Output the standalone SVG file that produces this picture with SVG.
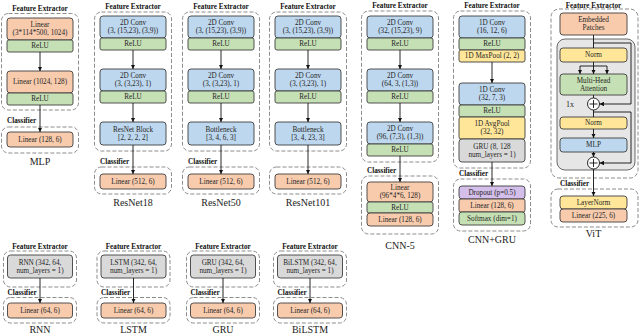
<svg xmlns="http://www.w3.org/2000/svg" width="640" height="334" viewBox="0 0 640 334">
<defs>
<style>
text{font-family:"Liberation Serif","Times New Roman",serif;fill:#262626;text-anchor:middle}
.fe{font-weight:bold;font-size:7.2px;fill:#111}
.cl{font-weight:bold;font-size:7.2px;fill:#111;text-anchor:start}
.t{font-size:7.2px}
.lb{font-size:10px;fill:#222}
.d{fill:none;stroke:#808080;stroke-width:0.9;stroke-dasharray:4 2}
.b{stroke:#404040;stroke-width:0.9}
.o{fill:#F8CBAD}.g{fill:#C5E0B4}.bl{fill:#BDD7EE}.y{fill:#FFE699}.gr{fill:#D9D9D9}.p{fill:#D4BEEA}
.ln{fill:none;stroke:#111;stroke-width:0.9}
</style>
<marker id="ah" viewBox="0 0 5 5" refX="5" refY="2.5" markerWidth="4.5" markerHeight="4.5" markerUnits="userSpaceOnUse" orient="auto"><path d="M0,0 L5,2.5 L0,5 z" fill="#111"/></marker>
</defs>

<g id="mlp">
<text class="fe" x="40" y="10.5">Feature Extractor</text>
<rect class="d" x="1.5" y="13.5" width="77" height="96.5" rx="7"/>
<rect class="b o" x="7" y="18" width="66" height="22" rx="3"/>
<text class="t" x="40" y="27.4">Linear</text>
<text class="t" x="40" y="35.4">(3*114*500, 1024)</text>
<rect class="b g" x="7" y="40" width="66" height="12" rx="2"/>
<text class="t" x="40" y="48.4">ReLU</text>
<rect class="b o" x="7" y="71" width="66" height="22" rx="3"/>
<text class="t" x="40" y="84.4">Linear (1024, 128)</text>
<rect class="b g" x="7" y="93" width="66" height="12" rx="2"/>
<text class="t" x="40" y="101.4">ReLU</text>
<text class="cl" x="7" y="123">Classifier</text>
<rect class="d" x="1.5" y="127" width="77" height="26" rx="7"/>
<rect class="b o" x="7" y="132" width="66" height="15" rx="3"/>
<text class="t" x="40" y="142">Linear (128, 6)</text>
<text class="lb" x="40" y="165">MLP</text>
</g>

<g id="resnet18">
<text class="fe" x="133" y="8.5">Feature Extractor</text>
<rect class="d" x="94.5" y="12" width="77" height="139" rx="7"/>
<rect class="b bl" x="100" y="16" width="66" height="22" rx="3"/>
<text class="t" x="133" y="25.4">2D Conv</text>
<text class="t" x="133" y="33.4">(3, (15,23), (3,9))</text>
<rect class="b g" x="100" y="38" width="66" height="12" rx="2"/>
<text class="t" x="133" y="46.4">ReLU</text>
<rect class="b bl" x="100" y="69" width="66" height="22" rx="3"/>
<text class="t" x="133" y="78.4">2D Conv</text>
<text class="t" x="133" y="86.4">(3, (3,23), 1)</text>
<rect class="b g" x="100" y="91" width="66" height="12" rx="2"/>
<text class="t" x="133" y="99.4">ReLU</text>
<rect class="b bl" x="100" y="122" width="66" height="23" rx="3"/>
<text class="t" x="133" y="131.9">ResNet Block</text>
<text class="t" x="133" y="139.9">[2, 2, 2, 2]</text>
<text class="cl" x="100" y="164">Classifier</text>
<rect class="d" x="94.5" y="167" width="77" height="27" rx="7"/>
<rect class="b o" x="100" y="174" width="66" height="15" rx="3"/>
<text class="t" x="133" y="184">Linear (512, 6)</text>
<text class="lb" x="133" y="206">ResNet18</text>
</g>

<g id="resnet50">
<text class="fe" x="221" y="8.5">Feature Extractor</text>
<rect class="d" x="182.5" y="12" width="77" height="139" rx="7"/>
<rect class="b bl" x="188" y="16" width="66" height="22" rx="3"/>
<text class="t" x="221" y="25.4">2D Conv</text>
<text class="t" x="221" y="33.4">(3, (15,23), (3,9))</text>
<rect class="b g" x="188" y="38" width="66" height="12" rx="2"/>
<text class="t" x="221" y="46.4">ReLU</text>
<rect class="b bl" x="188" y="69" width="66" height="22" rx="3"/>
<text class="t" x="221" y="78.4">2D Conv</text>
<text class="t" x="221" y="86.4">(3, (3,23), 1)</text>
<rect class="b g" x="188" y="91" width="66" height="12" rx="2"/>
<text class="t" x="221" y="99.4">ReLU</text>
<rect class="b bl" x="188" y="122" width="66" height="23" rx="3"/>
<text class="t" x="221" y="131.9">Bottleneck</text>
<text class="t" x="221" y="139.9">[3, 4, 6, 3]</text>
<text class="cl" x="188" y="164">Classifier</text>
<rect class="d" x="182.5" y="167" width="77" height="27" rx="7"/>
<rect class="b o" x="188" y="174" width="66" height="15" rx="3"/>
<text class="t" x="221" y="184">Linear (512, 6)</text>
<text class="lb" x="221" y="206">ResNet50</text>
</g>

<g id="resnet101">
<text class="fe" x="308" y="8.5">Feature Extractor</text>
<rect class="d" x="269.5" y="12" width="77" height="139" rx="7"/>
<rect class="b bl" x="275" y="16" width="66" height="22" rx="3"/>
<text class="t" x="308" y="25.4">2D Conv</text>
<text class="t" x="308" y="33.4">(3, (15,23), (3,9))</text>
<rect class="b g" x="275" y="38" width="66" height="12" rx="2"/>
<text class="t" x="308" y="46.4">ReLU</text>
<rect class="b bl" x="275" y="69" width="66" height="22" rx="3"/>
<text class="t" x="308" y="78.4">2D Conv</text>
<text class="t" x="308" y="86.4">(3, (3,23), 1)</text>
<rect class="b g" x="275" y="91" width="66" height="12" rx="2"/>
<text class="t" x="308" y="99.4">ReLU</text>
<rect class="b bl" x="275" y="122" width="66" height="23" rx="3"/>
<text class="t" x="308" y="131.9">Bottleneck</text>
<text class="t" x="308" y="139.9">[3, 4, 23, 3]</text>
<rect class="d" x="269.5" y="167" width="77" height="27" rx="7"/>
<rect class="b o" x="275" y="174" width="66" height="15" rx="3"/>
<text class="t" x="308" y="184">Linear (512, 6)</text>
<text class="lb" x="308" y="206">ResNet101</text>
</g>

<g id="cnn5">
<text class="fe" x="400" y="7.5">Feature Extractor</text>
<rect class="d" x="361.5" y="11" width="77" height="151" rx="7"/>
<rect class="b bl" x="367" y="16" width="66" height="22" rx="3"/>
<text class="t" x="400" y="25.4">2D Conv</text>
<text class="t" x="400" y="33.4">(32, (15,23), 9)</text>
<rect class="b g" x="367" y="38" width="66" height="12" rx="2"/>
<text class="t" x="400" y="46.4">ReLU</text>
<rect class="b bl" x="367" y="69" width="66" height="22" rx="3"/>
<text class="t" x="400" y="78.4">2D Conv</text>
<text class="t" x="400" y="86.4">(64, 3, (1,3))</text>
<rect class="b g" x="367" y="91" width="66" height="12" rx="2"/>
<text class="t" x="400" y="99.4">ReLU</text>
<rect class="b bl" x="367" y="122" width="66" height="22" rx="3"/>
<text class="t" x="400" y="131.4">2D Conv</text>
<text class="t" x="400" y="139.4">(96, (7,3), (1,3))</text>
<rect class="b g" x="367" y="144" width="66" height="12" rx="2"/>
<text class="t" x="400" y="152.4">ReLU</text>
<text class="cl" x="367" y="172.5">Classifier</text>
<rect class="d" x="361.5" y="176" width="77" height="58" rx="7"/>
<rect class="b o" x="367" y="182" width="66" height="20" rx="3"/>
<text class="t" x="400" y="190.4">Linear</text>
<text class="t" x="400" y="198.4">(96*4*6, 128)</text>
<rect class="b g" x="367" y="202" width="66" height="11" rx="2"/>
<text class="t" x="400" y="210">ReLU</text>
<rect class="b o" x="367" y="213" width="66" height="13" rx="3"/>
<text class="t" x="400" y="222">Linear (128, 6)</text>
<text class="lb" x="400" y="249">CNN-5</text>
</g>

<g id="cnngru">
<text class="fe" x="492" y="7.5">Feature Extractor</text>
<rect class="d" x="453.5" y="11" width="77" height="157" rx="7"/>
<rect class="b bl" x="459" y="16" width="66" height="22" rx="3"/>
<text class="t" x="492" y="25.4">1D Conv</text>
<text class="t" x="492" y="33.4">(16, 12, 6)</text>
<rect class="b g" x="459" y="38" width="66" height="12" rx="2"/>
<text class="t" x="492" y="46.4">ReLU</text>
<rect class="b y" x="459" y="50" width="66" height="12" rx="2"/>
<text class="t" x="492" y="58.4">1D MaxPool (2, 2)</text>
<rect class="b bl" x="459" y="83" width="66" height="22" rx="3"/>
<text class="t" x="492" y="92.4">1D Conv</text>
<text class="t" x="492" y="100.4">(32, 7, 3)</text>
<rect class="b g" x="459" y="105" width="66" height="12" rx="2"/>
<text class="t" x="492" y="113.4">ReLU</text>
<rect class="b y" x="459" y="117" width="66" height="22" rx="2"/>
<text class="t" x="492" y="126.4">1D AvgPool</text>
<text class="t" x="492" y="134.4">(32, 32)</text>
<rect class="b gr" x="459" y="139" width="66" height="23" rx="3"/>
<text class="t" x="492" y="148.9">GRU (8, 128</text>
<text class="t" x="492" y="156.9">num_layers = 1)</text>
<text class="cl" x="459" y="175.5">Classifier</text>
<rect class="d" x="453.5" y="179" width="77" height="52" rx="7"/>
<rect class="b p" x="459" y="186" width="66" height="13" rx="3"/>
<text class="t" x="492" y="195">Dropout (p=0.5)</text>
<rect class="b o" x="459" y="199" width="66" height="13" rx="2"/>
<text class="t" x="492" y="208">Linear (128, 6)</text>
<rect class="b g" x="459" y="212" width="66" height="13" rx="3"/>
<text class="t" x="492" y="221">Softmax (dim=1)</text>
<text class="lb" x="492" y="243">CNN+GRU</text>
</g>

<g id="vit">
<text class="fe" x="593.5" y="7.5">Feature Extractor</text>
<rect class="d" x="551" y="9" width="87" height="169" rx="8"/>
<rect class="b o" x="560" y="13" width="67" height="22" rx="3"/>
<text class="t" x="593.5" y="22.4">Embedded</text>
<text class="t" x="593.5" y="30.4">Patches</text>
<rect x="557" y="39" width="78" height="131" rx="8" fill="#E7E6E6" stroke="#595959" stroke-width="0.9"/>
<rect class="b y" x="560" y="48" width="67" height="14" rx="3"/>
<text class="t" x="593.5" y="57.4">Norm</text>
<rect class="b g" x="560" y="74" width="67" height="21" rx="3"/>
<text class="t" x="593.5" y="82.9">Multi-Head</text>
<text class="t" x="593.5" y="90.9">Attention</text>
<circle cx="593.5" cy="104" r="6" fill="#fff" stroke="#111" stroke-width="0.9"/>
<path class="ln" d="M589.5,104 H597.5 M593.5,100 V108"/>
<text class="t" x="570" y="107" style="font-size:8px">1x</text>
<rect class="b y" x="560" y="117" width="67" height="12" rx="3"/>
<text class="t" x="593.5" y="125.4">Norm</text>
<rect class="b bl" x="560" y="138" width="67" height="14" rx="3"/>
<text class="t" x="593.5" y="147.4">MLP</text>
<circle cx="593.5" cy="163" r="6" fill="#fff" stroke="#111" stroke-width="0.9"/>
<path class="ln" d="M589.5,163 H597.5 M593.5,159 V167"/>
<text class="cl" x="560" y="185.5">Classifier</text>
<rect class="d" x="551" y="189" width="87" height="38" rx="7"/>
<rect class="b y" x="560" y="196" width="67" height="13" rx="3"/>
<text class="t" x="593.5" y="205">LayerNorm</text>
<rect class="b o" x="560" y="209" width="67" height="13" rx="3"/>
<text class="t" x="593.5" y="218">Linear (225, 6)</text>
<text class="lb" x="593.5" y="237">ViT</text>
</g>

<g id="rnn">
<text class="fe" x="40" y="248.5">Feature Extractor</text>
<rect class="d" x="3.5" y="251" width="73" height="36" rx="7"/>
<rect class="b gr" x="7.5" y="255" width="65" height="23" rx="3"/>
<text class="t" x="40" y="264.9">RNN (342, 64,</text>
<text class="t" x="40" y="272.9">num_layers = 1)</text>
<text class="cl" x="7.5" y="294.5">Classifier</text>
<rect class="d" x="3.5" y="297.5" width="73" height="25.5" rx="7"/>
<rect class="b o" x="7.5" y="303" width="65" height="15" rx="3"/>
<text class="t" x="40" y="313">Linear (64, 6)</text>
<text class="lb" x="40" y="332.5">RNN</text>
</g>

<g id="lstm">
<text class="fe" x="133.5" y="248.5">Feature Extractor</text>
<rect class="d" x="97" y="251" width="73" height="36" rx="7"/>
<rect class="b gr" x="101" y="255" width="65" height="23" rx="3"/>
<text class="t" x="133.5" y="264.9">LSTM (342, 64,</text>
<text class="t" x="133.5" y="272.9">num_layers = 1)</text>
<text class="cl" x="101" y="294.5">Classifier</text>
<rect class="d" x="97" y="297.5" width="73" height="25.5" rx="7"/>
<rect class="b o" x="101" y="303" width="65" height="15" rx="3"/>
<text class="t" x="133.5" y="313">Linear (64, 6)</text>
<text class="lb" x="133.5" y="332.5">LSTM</text>
</g>

<g id="gru">
<text class="fe" x="223" y="248.5">Feature Extractor</text>
<rect class="d" x="186.5" y="251" width="73" height="36" rx="7"/>
<rect class="b gr" x="190.5" y="255" width="65" height="23" rx="3"/>
<text class="t" x="223" y="264.9">GRU (342, 64,</text>
<text class="t" x="223" y="272.9">num_layers = 1)</text>
<text class="cl" x="190.5" y="294.5">Classifier</text>
<rect class="d" x="186.5" y="297.5" width="73" height="25.5" rx="7"/>
<rect class="b o" x="190.5" y="303" width="65" height="15" rx="3"/>
<text class="t" x="223" y="313">Linear (64, 6)</text>
<text class="lb" x="223" y="332.5">GRU</text>
</g>

<g id="bilstm">
<text class="fe" x="310" y="248.5">Feature Extractor</text>
<rect class="d" x="273.5" y="251" width="73" height="36" rx="7"/>
<rect class="b gr" x="277.5" y="255" width="65" height="23" rx="3"/>
<text class="t" x="310" y="264.9">BiLSTM (342, 64,</text>
<text class="t" x="310" y="272.9">num_layers = 1)</text>
<text class="cl" x="277.5" y="294.5">Classifier</text>
<rect class="d" x="273.5" y="297.5" width="73" height="25.5" rx="7"/>
<rect class="b o" x="277.5" y="303" width="65" height="15" rx="3"/>
<text class="t" x="310" y="313">Linear (64, 6)</text>
<text class="lb" x="310" y="332.5">BiLSTM</text>
</g>

<g id="connectors">
<line class="ln" x1="40" y1="52" x2="40" y2="71" marker-end="url(#ah)"/>
<line class="ln" x1="40" y1="105" x2="40" y2="132" marker-end="url(#ah)"/>
<line class="ln" x1="133" y1="50" x2="133" y2="69" marker-end="url(#ah)"/>
<line class="ln" x1="133" y1="103" x2="133" y2="122" marker-end="url(#ah)"/>
<line class="ln" x1="133" y1="145" x2="133" y2="174" marker-end="url(#ah)"/>
<line class="ln" x1="221" y1="50" x2="221" y2="69" marker-end="url(#ah)"/>
<line class="ln" x1="221" y1="103" x2="221" y2="122" marker-end="url(#ah)"/>
<line class="ln" x1="221" y1="145" x2="221" y2="174" marker-end="url(#ah)"/>
<line class="ln" x1="308" y1="50" x2="308" y2="69" marker-end="url(#ah)"/>
<line class="ln" x1="308" y1="103" x2="308" y2="122" marker-end="url(#ah)"/>
<line class="ln" x1="308" y1="145" x2="308" y2="174" marker-end="url(#ah)"/>
<line class="ln" x1="400" y1="50" x2="400" y2="69" marker-end="url(#ah)"/>
<line class="ln" x1="400" y1="103" x2="400" y2="122" marker-end="url(#ah)"/>
<line class="ln" x1="400" y1="156" x2="400" y2="182" marker-end="url(#ah)"/>
<line class="ln" x1="492" y1="62" x2="492" y2="83" marker-end="url(#ah)"/>
<line class="ln" x1="492" y1="162" x2="492" y2="186" marker-end="url(#ah)"/>
<line class="ln" x1="593.5" y1="35" x2="593.5" y2="48"/>
<path class="ln" d="M593.5,43 H631 V104 H599.5" marker-end="url(#ah)"/>
<path class="ln" d="M593.5,62 V66 M580,66 H607"/>
<line class="ln" x1="580" y1="66" x2="580" y2="74" marker-end="url(#ah)"/>
<line class="ln" x1="593.5" y1="66" x2="593.5" y2="74" marker-end="url(#ah)"/>
<line class="ln" x1="607" y1="66" x2="607" y2="74" marker-end="url(#ah)"/>
<line class="ln" x1="593.5" y1="95" x2="593.5" y2="98"/>
<line class="ln" x1="593.5" y1="110" x2="593.5" y2="117"/>
<path class="ln" d="M593.5,112 H631 V163 H599.5" marker-end="url(#ah)"/>
<line class="ln" x1="593.5" y1="129" x2="593.5" y2="138" marker-end="url(#ah)"/>
<line class="ln" x1="593.5" y1="152" x2="593.5" y2="157" marker-end="url(#ah)"/>
<line class="ln" x1="593.5" y1="169" x2="593.5" y2="196" marker-end="url(#ah)"/>
<line class="ln" x1="40" y1="278" x2="40" y2="303" marker-end="url(#ah)"/>
<line class="ln" x1="133.5" y1="278" x2="133.5" y2="303" marker-end="url(#ah)"/>
<line class="ln" x1="223" y1="278" x2="223" y2="303" marker-end="url(#ah)"/>
<line class="ln" x1="310" y1="278" x2="310" y2="303" marker-end="url(#ah)"/>
</g>
</svg>
